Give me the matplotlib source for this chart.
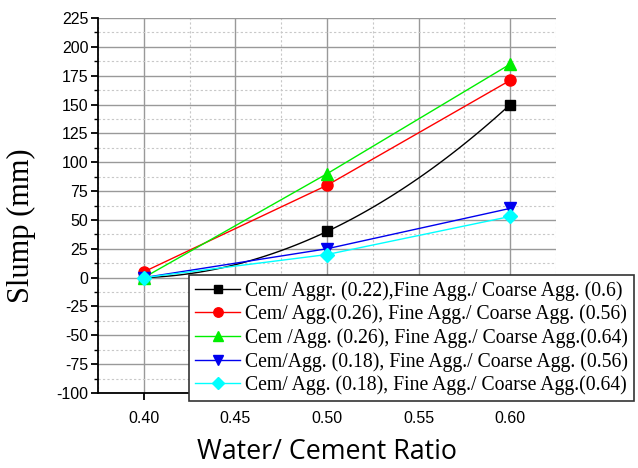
import numpy as np
import matplotlib
matplotlib.use('Agg')
import matplotlib.pyplot as plt
from matplotlib.ticker import MultipleLocator


W_C = [0.40, 0.50, 0.60]

SERIES_LABELS = [
    'Cem/ Aggr. (0.22),Fine Agg./ Coarse Agg. (0.6)',
    'Cem/ Agg.(0.26), Fine Agg./ Coarse Agg. (0.56)',
    'Cem /Agg. (0.26), Fine Agg./ Coarse Agg.(0.64)',
    'Cem/Agg. (0.18), Fine Agg./ Coarse Agg. (0.56)',
    'Cem/ Agg. (0.18), Fine Agg./ Coarse Agg.(0.64)',
]
slump_022_06 = [0, 40, 150]
slump_026_056 = [5, 80, 171]
slump_026_064 = [0, 90, 185]
slump_018_056 = [0, 25, 60]
slump_018_064 = [0, 20, 53]

COLORS = ['black', 'red', '#00ee00', '#0000ee', 'cyan']
MARKERS = ['s', 'o', '^', 'v', 'D']
MSIZES = [7, 8, 8.5, 8.5, 7]

plt.rcParams['axes.unicode_minus'] = False

fig = plt.figure(figsize=(6.38, 4.68), dpi=100)
ax = fig.add_axes([98 / 638, 1 - 393 / 468, (556 - 98) / 638, (393 - 18) / 468])

all_series = [slump_022_06, slump_026_056, slump_026_064, slump_018_056, slump_018_064]
handles = []
for i, ys in enumerate(all_series):
    if i == 0:
        # first series is drawn as a smooth curve through its points
        coef = np.polyfit(W_C, ys, 2)
        xs = np.linspace(W_C[0], W_C[-1], 100)
        ax.plot(xs, np.polyval(coef, xs), color=COLORS[i], lw=1, zorder=3)
    else:
        ax.plot(W_C, ys, color=COLORS[i], lw=1, zorder=3)
    ax.plot(W_C, ys, ls='none', marker=MARKERS[i], ms=MSIZES[i],
            color=COLORS[i], mec=COLORS[i], zorder=4)
    h, = ax.plot([], [], color=COLORS[i], lw=1, marker=MARKERS[i],
                 ms=MSIZES[i] * 0.85, mec=COLORS[i], label=SERIES_LABELS[i])
    handles.append(h)

ax.set_xlim(0.375, 0.625)
ax.set_ylim(-100, 225)
ax.xaxis.set_major_locator(MultipleLocator(0.05))
ax.xaxis.set_minor_locator(MultipleLocator(0.025))
ax.yaxis.set_major_locator(MultipleLocator(25))
ax.yaxis.set_minor_locator(MultipleLocator(12.5))
ax.xaxis.set_major_formatter(plt.FuncFormatter(lambda v, p: '%.2f' % v))
ax.yaxis.set_major_formatter(plt.FuncFormatter(lambda v, p: '%d' % v))

ax.grid(which='major', color='#999999', lw=1, ls='-')
ax.grid(which='minor', color='#c8c8c8', lw=0.8, ls=(0, (2, 2)))
ax.set_axisbelow(True)

for s in ['top', 'right']:
    ax.spines[s].set_visible(False)
for s in ['left', 'bottom']:
    ax.spines[s].set_linewidth(1.3)

ax.tick_params(which='major', direction='out', length=5, width=1.3,
               labelsize=11.5, pad=2)
ax.tick_params(which='minor', direction='out', length=3, width=1)
ax.tick_params(axis='x', which='minor', length=0)
for lab in ax.get_xticklabels() + ax.get_yticklabels():
    lab.set_family('Liberation Sans')
ax.tick_params(axis='x', pad=8)

fig.text(21 / 638, 1 - 226 / 468, 'Slump (mm)', rotation=90, ha='center',
         va='center', fontsize=22, family='Liberation Serif')
fig.text(327 / 638, 1 - 452 / 468, 'Water/ Cement Ratio', ha='center',
         va='center', fontsize=19.3, family='Open Sans')

leg = fig.legend(handles=handles, loc='upper left',
                 bbox_to_anchor=(189 / 638, 1 - 275 / 468),
                 prop={'family': 'Liberation Serif', 'size': 14.2},
                 frameon=True, fancybox=False, edgecolor='#333333',
                 framealpha=1, handlelength=2.3, handletextpad=0.25,
                 labelspacing=0.2, borderpad=0.3, borderaxespad=0,
                 numpoints=1)
leg.get_frame().set_linewidth(1.2)

fig.savefig('out.png', dpi=100)
